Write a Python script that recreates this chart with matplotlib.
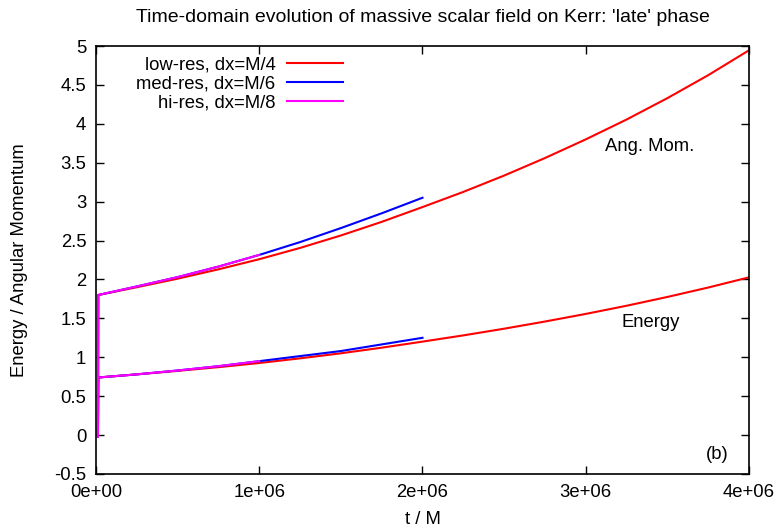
import matplotlib
matplotlib.use("Agg")
import matplotlib.pyplot as plt
from matplotlib.ticker import FuncFormatter, MultipleLocator

plt.rcParams['font.family'] = ['Liberation Sans', 'DejaVu Sans']

# time samples (units of M) and integrated energy / angular momentum
t_low = [1.2e4, 1.4e4, 2.5e5, 5.0e5, 7.5e5, 1.0e6, 1.25e6, 1.5e6, 1.75e6, 2.0e6,
         2.25e6, 2.5e6, 2.75e6, 3.0e6, 3.25e6, 3.5e6, 3.75e6, 4.0e6]
J_low = [-0.02, 1.80, 1.90, 2.01, 2.13, 2.26, 2.405, 2.565, 2.74, 2.93,
         3.125, 3.335, 3.56, 3.80, 4.055, 4.33, 4.625, 4.945]
E_low = [-0.02, 0.74, 0.78, 0.825, 0.873, 0.926, 0.986, 1.051, 1.123, 1.201,
         1.281, 1.367, 1.459, 1.557, 1.662, 1.775, 1.896, 2.027]

t_med = [1.2e4, 1.4e4, 2.5e5, 5.0e5, 7.5e5, 1.0e6, 1.25e6, 1.5e6, 1.75e6, 2.0e6]
J_med = [-0.02, 1.80, 1.91, 2.03, 2.165, 2.315, 2.48, 2.66, 2.85, 3.05]
E_med = [-0.02, 0.74, 0.78, 0.83, 0.885, 0.95, 1.015, 1.08, 1.165, 1.25]

t_hi = [1.2e4, 1.4e4, 2.5e5, 5.0e5, 7.5e5, 1.0e6]
J_hi = [-0.02, 1.80, 1.91, 2.03, 2.165, 2.315]
E_hi = [-0.02, 0.74, 0.78, 0.83, 0.885, 0.95]

runs = [
    ("low-res, dx=M/4", t_low, E_low, J_low, "#ff0000"),
    ("med-res, dx=M/6", t_med, E_med, J_med, "#0000ff"),
    ("hi-res, dx=M/8", t_hi, E_hi, J_hi, "#ff00ff"),
]

fs = 13.3

fig = plt.figure(figsize=(7.79, 5.30), dpi=100)
ax = fig.add_axes([0.1232, 0.1057, 0.8383, 0.8075])

for label, t, E, J, color in runs:
    ax.plot(t, J, color=color, lw=1.5, label=label)
    ax.plot(t, E, color=color, lw=1.5)

ax.set_xlim(0, 4e6)
ax.set_ylim(-0.5, 5)
ax.xaxis.set_major_locator(MultipleLocator(1e6))
ax.yaxis.set_major_locator(MultipleLocator(0.5))
ax.xaxis.set_major_formatter(FuncFormatter(lambda x, pos: f"{x:.0e}"))
ax.yaxis.set_major_formatter(FuncFormatter(lambda y, pos: f"{y:g}"))
ax.tick_params(direction='in', length=6, width=1, top=True, right=True,
               labelsize=fs, pad=7)
for sp in ax.spines.values():
    sp.set_linewidth(1.2)

ax.set_title("Time-domain evolution of massive scalar field on Kerr: 'late' phase",
             fontsize=14, pad=17)
ax.set_xlabel("t / M", fontsize=fs, labelpad=7.5)
ax.set_ylabel("Energy / Angular Momentum", fontsize=fs, labelpad=19)

ax.text(3.12e6, 3.71, "Ang. Mom.", fontsize=fs, va='center')
ax.text(3.22e6, 1.45, "Energy", fontsize=fs, va='center')
ax.text(3.877e6, -0.25, "(b)", fontsize=fs, va='center', ha='right')

# gnuplot-style key: right-aligned labels, sample line after the text
ax.legend(loc='upper right', bbox_to_anchor=(0.378, 0.976), markerfirst=False,
          frameon=False, fontsize=fs, handlelength=3.0, handletextpad=0.65,
          labelspacing=0.12, borderpad=0, borderaxespad=0)

fig.savefig("out.png", dpi=100)
